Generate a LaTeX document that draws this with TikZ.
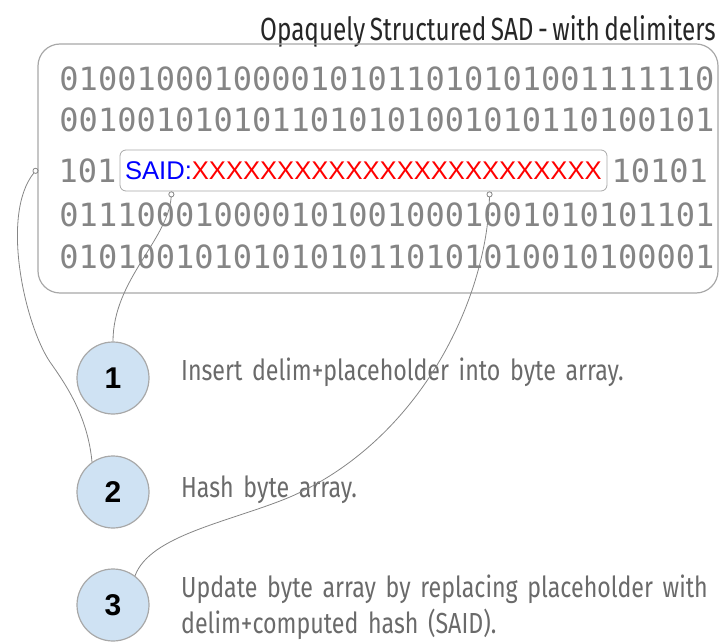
\documentclass[tikz,border=0pt]{standalone}
\usepackage{fontspec}
\setmainfont{Liberation Sans}
\newfontfamily\bitsfont{DejaVu Sans Mono}
\newfontfamily\narrowfont[FakeStretch=0.80,WordSpace=0.7]{Fira Sans}
\newfontfamily\titlefont[FakeStretch=0.76,WordSpace=0.7]{Fira Sans}
\usetikzlibrary{arrows.meta,positioning}
\definecolor{linegray}{HTML}{A8A8A8}
\definecolor{bitgray}{HTML}{858585}
\definecolor{textgray}{HTML}{6A6A6A}
\definecolor{stepblue}{HTML}{CFE2F3}

\begin{document}
\begin{tikzpicture}[x=1pt,y=-1pt,on grid,node distance=41pt,
    bits/.style={font=\bitsfont\fontsize{32}{32}\selectfont,text=bitgray,inner sep=0pt},
    frame/.style={draw=linegray,line width=1.2pt,rounded corners=22pt},
    saidbox/.style={draw=linegray,line width=0.8pt,rounded corners=6pt,minimum width=487pt,minimum height=41pt,inner sep=0pt,text width=477pt,align=left,font=\fontsize{25.6}{25.6}\selectfont},
    num/.style={circle,draw=linegray,fill=stepblue,line width=1.2pt,minimum size=72pt,inner sep=0pt,font=\bfseries\fontsize{30}{30}\selectfont},
    steptext/.style={anchor=base west,align=left,text width=560pt,text=textgray,inner sep=0pt,font=\narrowfont\fontsize{29}{36}\selectfont},
    link/.style={draw=linegray!80!black,line width=0.8pt,-{Circle[open,length=6pt,width=6pt]}}]

    \useasboundingbox (0,0) rectangle (720,644);

    % title and byte array
    \node[anchor=base east,inner sep=0pt,text=black!85,font=\titlefont\fontsize{32}{32}\selectfont] (title) at (716,41) {Opaquely Structured SAD - with delimiters};
    \node[frame,minimum width=680pt,minimum height=249pt] (sad) at (378,168.5) {};

    \node[bits] (r1) at (387,79) {0100100010000101011010101001111110};
    \node[bits] (r2) [below=of r1] {0010010101011010101001010110100101};
    \node[saidbox] (said) at (363.5,170.5) {\textcolor{blue}{SAID:}\textcolor{red}{XXXXXXXXXXXXXXXXXXXXXXXX}};
    \node[bits,anchor=east] (r3a) at ([xshift=-3pt]said.west) {101};
    \node[bits,anchor=west] (r3b) at ([xshift=4pt]said.east) {10101};
    \node[bits] (r4) [below=95pt of r2] {0111000100001010010001001010101101};
    \node[bits] (r5) [below=42pt of r4] {0101001010101010110101010010100001};

    \coordinate (m1) at ([xshift=52pt]said.south west);
    \coordinate (m2) at (sad.west);
    \coordinate (m3) at ([xshift=370pt]said.south west);

    % steps
    \node[num] (s1) at (113,378) {1};
    \node[num] (s2) [below=114pt of s1] {2};
    \node[num] (s3) [below=113pt of s2] {3};

    \node[steptext] (t1) at (181,380) {Insert delim+placeholder into byte array.};
    \node[steptext] (t2) at (181,497) {Hash byte array.};
    \node[steptext] (t3) at (181,597) {Update byte array by replacing placeholder with\\delim+computed hash (SAID).};

    % connectors
    \draw[link] (s1.north) .. controls (113,280) and (168,240) .. (m1);
    \draw[link] (s2.125) .. controls (88,420) and (70,390) .. (50,362) .. controls (25,325) and (0,215) .. (m2);
    \draw[link] (s3.53) .. controls (150,535) and (230,522) .. (290,497) .. controls (420,440) and (487,300) .. (m3);

\end{tikzpicture}
\end{document}
